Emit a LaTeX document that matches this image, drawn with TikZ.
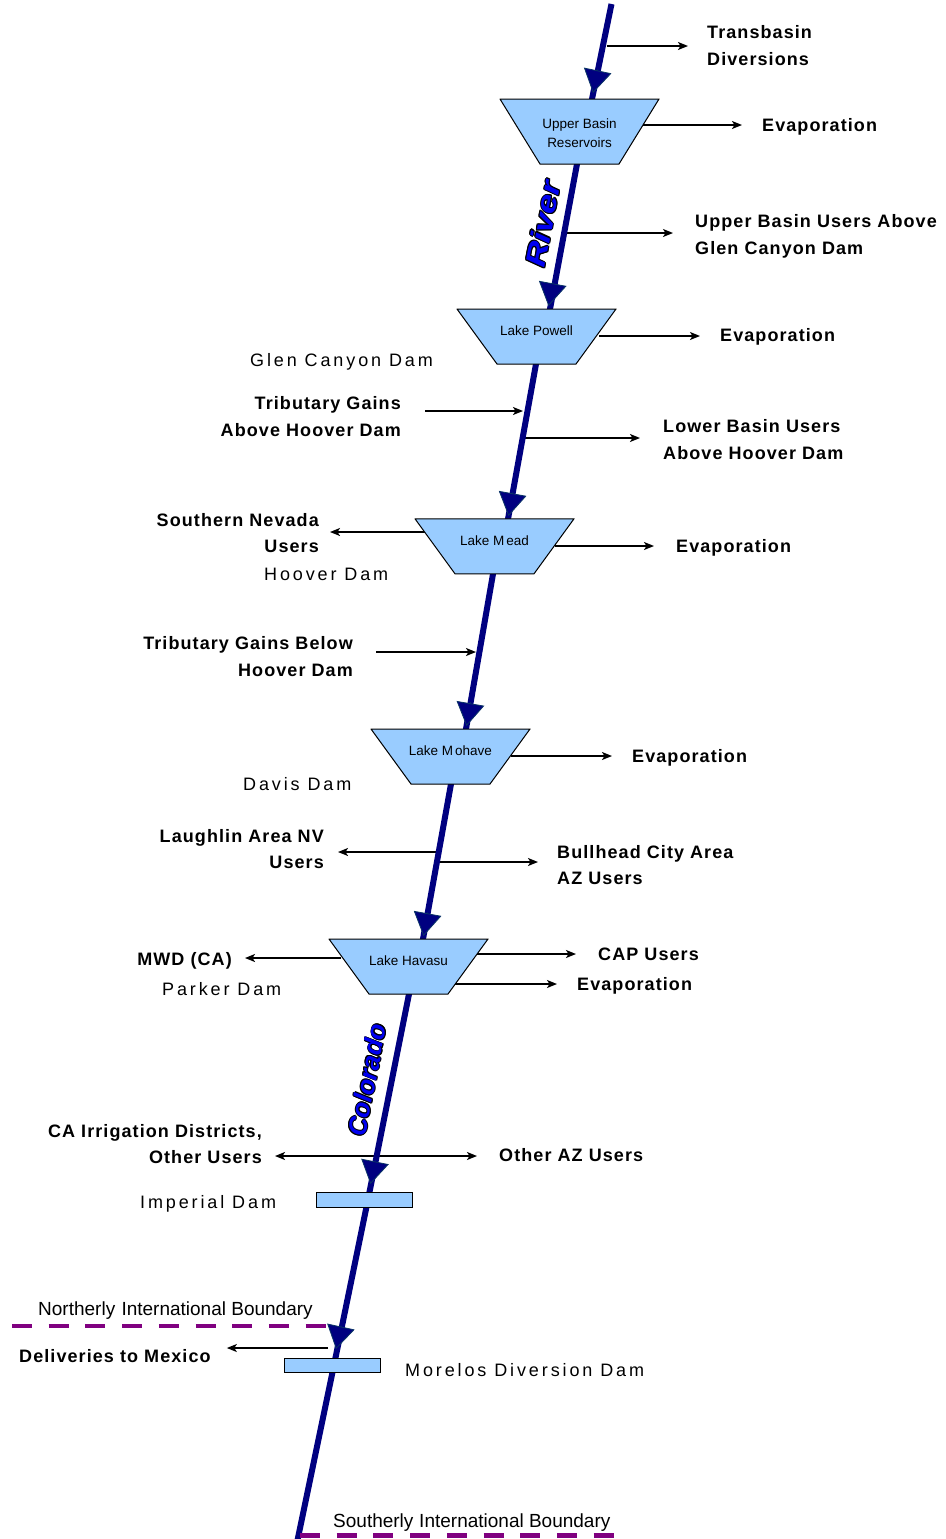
\documentclass[tikz,border=0pt]{standalone}
\usepackage{fontspec}
\usepackage{graphicx}
\setmainfont{Liberation Sans}
\newfontfamily\lblfont[LetterSpace=6]{Liberation Sans}
\newfontfamily\damfont[LetterSpace=16]{Liberation Sans}
\usetikzlibrary{arrows.meta,backgrounds,calc}
\definecolor{lakeblue}{HTML}{99CCFF}
\definecolor{rivernavy}{HTML}{000080}
\definecolor{headedge}{HTML}{0B3566}
\definecolor{bndpurple}{HTML}{800080}
\definecolor{rivertext}{HTML}{0000F0}
\newcommand\lk[1]{\raisebox{1pt}[0pt][0pt]{#1}}
\newcommand\lkk[2]{\raisebox{2.7pt}[0pt][0pt]{\vtop{\halign{\hfil##\hfil\cr #1\cr #2\cr}}}}
\newcommand\sst{\rule[-4pt]{0pt}{17.5pt}}
\newcommand\oltone[3]{\rlap{\kern#1\raisebox{#2}{\color{black}#3}}}
\newcommand\olt[1]{\leavevmode\oltone{-0.9pt}{0pt}{#1}\oltone{0.9pt}{0pt}{#1}\oltone{0pt}{0.9pt}{#1}\oltone{0pt}{-0.9pt}{#1}\oltone{-0.65pt}{0.65pt}{#1}\oltone{0.65pt}{0.65pt}{#1}\oltone{-0.65pt}{-0.65pt}{#1}\oltone{0.65pt}{-0.65pt}{#1}{\color{rivertext}#1}}
\tikzset{
  lake/.style={minimum width=160pt, minimum height=#1, inner sep=0pt, outer sep=0pt,
    font=\fontsize{13.5}{19}\selectfont,
    path picture={
      \path[fill=lakeblue, draw=black, line width=1pt, line join=miter]
        ([shift={(0.5pt,-0.5pt)}]path picture bounding box.north west) --
        ([shift={(-0.5pt,-0.5pt)}]path picture bounding box.north east) --
        ([shift={(-40.5pt,0.5pt)}]path picture bounding box.south east) --
        ([shift={(40.5pt,0.5pt)}]path picture bounding box.south west) -- cycle;
    }},
  dambox/.style={draw=black, line width=1pt, fill=lakeblue, inner sep=0pt, minimum width=96pt},
  lbl/.style={inner sep=0pt, font=\lblfont\bfseries\fontsize{18}{26.5}\selectfont},
  lblL/.style={lbl, anchor=west, align=left},
  lblR/.style={lbl, anchor=east, align=right},
  damlbl/.style={inner sep=0pt, anchor=west, font=\damfont\fontsize{18}{22}\selectfont},
  bndlbl/.style={inner sep=0pt, anchor=west, font=\fontsize{19}{22}\selectfont},
  bndline/.style={line width=4.5pt, draw=bndpurple, dash pattern=on 20pt off 16.7pt},
  flow/.style={line width=1.5pt, -{Stealth[length=10pt,width=8pt,inset=2.5pt]}},
  river/.style={line width=6pt, draw=rivernavy, line join=round},
  headarr/.style={draw=headedge, line width=0.8pt, -{Triangle[length=23pt,width=28pt,fill=rivernavy]}},
  rivlbl/.style={rotate=79, inner sep=0pt, font=\bfseries\itshape\fontsize{28}{30}\selectfont},
}
\begin{document}
\begin{tikzpicture}[x=1pt,y=-1pt]
\useasboundingbox (0,0) rectangle (945,1539);

% reservoirs and dams
\node[lake=66pt] (ubr) at (579.5,131.5) {\lkk{Upper Basin}{Reservoirs}};
\node[lake=56pt] (powell) at (536.5,336.5) {\lk{Lake Powell}};
\node[lake=56pt] (mead) at (494.5,546.3) {\lk{Lake M\kern2pt ead}};
\node[lake=56pt] (mohave) at (450.5,756.5) {\lk{Lake M\kern2pt ohave}};
\node[lake=56pt] (havasu) at (408.5,966.5) {\lk{Lake Havasu}};
\node[dambox, minimum height=15pt] (imperial) at (364,1199.5) {};
\node[dambox, minimum height=14pt] (morelos) at (332,1365) {};

% labels
\node[lblL] (trans) at (707,47) {\sst Transbasin\\\sst Diversions};
\node[lblL] (ubrevap) at (762,127) {\sst Evaporation};
\node[lblL] (ubusers) at (695,236) {\sst Upper Basin Users Above\\\sst Glen Canyon Dam};
\node[lblL] (powevap) at (720,337) {\sst Evaporation};
\node[damlbl] (glen) at (250,362) {\sst Glen Canyon Dam};
\node[lblR] (tribA) at (401,418) {\sst Tributary Gains\\\sst Above Hoover Dam};
\node[lblL] (lbusers) at (663,441) {\sst Lower Basin Users\\\sst Above Hoover Dam};
\node[lblR] (snev) at (319,534.5) {\sst Southern Nevada\\\sst Users};
\node[lblL] (meadevap) at (676,548) {\sst Evaporation};
\node[damlbl] (hoover) at (264,576) {\sst Hoover Dam};
\node[lblR] (tribB) at (353,658) {\sst Tributary Gains Below\\\sst Hoover Dam};
\node[lblL] (mohevap) at (632,758) {\sst Evaporation};
\node[damlbl] (davis) at (243,786) {\sst Davis Dam};
\node[lblR] (laughlin) at (324,850.5) {\sst Laughlin Area NV\\\sst Users};
\node[lblL] (bullhead) at (557,866.5) {\sst Bullhead City Area\\\sst AZ Users};
\node[lblR] (mwd) at (232,961) {\sst MWD (CA)};
\node[lblL] (cap) at (598,956) {\sst CAP Users};
\node[lblL] (havevap) at (577,986) {\sst Evaporation};
\node[damlbl] (parker) at (162,991) {\sst Parker Dam};
\node[lblR] (cairr) at (262,1145.5) {\sst CA Irrigation Districts,\\\sst Other Users};
\node[lblL] (otheraz) at (499,1157) {\sst Other AZ Users};
\node[damlbl] (imperiallbl) at (140,1204) {\sst Imperial Dam};
\node[bndlbl] (northlbl) at (38,1311) {\sst Northerly\hspace{1pt} International Boundary};
\node[lblL] (deliv) at (19,1358) {\sst Deliveries to Mexico};
\node[damlbl] (moreloslbl) at (405,1372) {\sst Morelos Diversion Dam};
\node[bndlbl] (southlbl) at (333,1523) {\sst Southerly\hspace{0.5pt} International Boundary};

\node[rivlbl] (riverword) at (543,224) {\scalebox{1.25}[1]{\olt{River}}};
\node[rivlbl, font=\bfseries\itshape\fontsize{26}{30}\selectfont] (coloradoword) at (367,1080) {\olt{Colorado}};

% boundaries
\coordinate (nb1) at (12,1326);
\coordinate (nb2) at (328,1326);
\coordinate (sb1) at (300,1535.5);
\coordinate (sb2) at (620,1535.5);

% river points
\coordinate (r0) at (611.5,4);
\coordinate (r1) at (592,99);
\coordinate (r2) at (577,164);
\coordinate (r3) at (550,309);
\coordinate (r4) at (536,364);
\coordinate (r5) at (508,519);
\coordinate (r6) at (493,574);
\coordinate (r7) at (466,729);
\coordinate (r8) at (451,784);
\coordinate (r9) at (423,939);
\coordinate (r10) at (409,994);
\coordinate (r11) at (368,1199.5);
\coordinate (r12) at (334,1365);
\coordinate (r13) at (296.5,1545);

% arrowhead tips
\coordinate (h1) at (593,93);
\coordinate (h2) at (548.5,306);
\coordinate (h3) at (508.5,516);
\coordinate (h4) at (466.5,726);
\coordinate (h5) at (423.5,936);
\coordinate (h6) at (370.5,1184);
\coordinate (h7) at (336,1349);

% flow start points
\coordinate (f1) at (607,46);
\coordinate (f2) at (643,125);
\coordinate (f3) at (567,233);
\coordinate (f4) at (599,336);
\coordinate (f5) at (523,411);
\coordinate (f6) at (525,438);
\coordinate (f7) at (425,532);
\coordinate (f8) at (555,546);
\coordinate (f9) at (476,652);
\coordinate (f10) at (511,756);
\coordinate (f11) at (436,852);
\coordinate (f12) at (439,862);
\coordinate (f13) at (341,958);
\coordinate (f14) at (477,954);
\coordinate (f15) at (455,984);
\coordinate (f16) at (376.6,1156);
\coordinate (f18) at (328,1348);

\begin{scope}[on background layer]
  \draw[flow, shorten >=19pt] (f1) -- (f1 -| trans.west);
  \draw[flow, shorten >=20pt] (f2) -- (f2 -| ubrevap.west);
  \draw[flow, shorten >=22pt] (f3) -- (f3 -| ubusers.west);
  \draw[flow, shorten >=20pt] (f4) -- (f4 -| powevap.west);
  \draw[flow, shorten <=24pt] (f5 -| tribA.east) -- (f5);
  \draw[flow, shorten >=23pt] (f6) -- (f6 -| lbusers.west);
  \draw[flow, shorten >=11pt] (f7) -- (f7 -| snev.east);
  \draw[flow, shorten >=22pt] (f8) -- (f8 -| meadevap.west);
  \draw[flow, shorten <=23pt] (f9 -| tribB.east) -- (f9);
  \draw[flow, shorten >=20pt] (f10) -- (f10 -| mohevap.west);
  \draw[flow, shorten >=14pt] (f11) -- (f11 -| laughlin.east);
  \draw[flow, shorten >=19pt] (f12) -- (f12 -| bullhead.west);
  \draw[flow, shorten >=13pt] (f13) -- (f13 -| mwd.east);
  \draw[flow, shorten >=22pt] (f14) -- (f14 -| cap.west);
  \draw[flow, shorten >=20pt] (f15) -- (f15 -| havevap.west);
  \draw[flow, shorten >=13pt] (f16) -- (f16 -| cairr.east);
  \draw[flow, shorten >=22pt] (f16) -- (f16 -| otheraz.west);
  \draw[flow, shorten >=16pt] (f18) -- (f18 -| deliv.east);

  \draw[river] (r0) -- (r1) -- (r2) -- (r3) -- (r4) -- (r5) -- (r6) -- (r7)
    -- (r8) -- (r9) -- (r10) -- (r11) -- (r12) -- (r13);

  \draw[headarr] ($(h1)+(4.9,-23.5)$) -- (h1);
  \draw[headarr] ($(h2)+(4.4,-23.6)$) -- (h2);
  \draw[headarr] ($(h3)+(4.3,-23.6)$) -- (h3);
  \draw[headarr] ($(h4)+(4.1,-23.6)$) -- (h4);
  \draw[headarr] ($(h5)+(4.3,-23.6)$) -- (h5);
  \draw[headarr] ($(h6)+(4.7,-23.5)$) -- (h6);
  \draw[headarr] ($(h7)+(5.1,-23.4)$) -- (h7);
\end{scope}

\draw[bndline] (nb1) -- (nb2);
\draw[bndline] (sb1) -- (sb2);
\end{tikzpicture}
\end{document}
